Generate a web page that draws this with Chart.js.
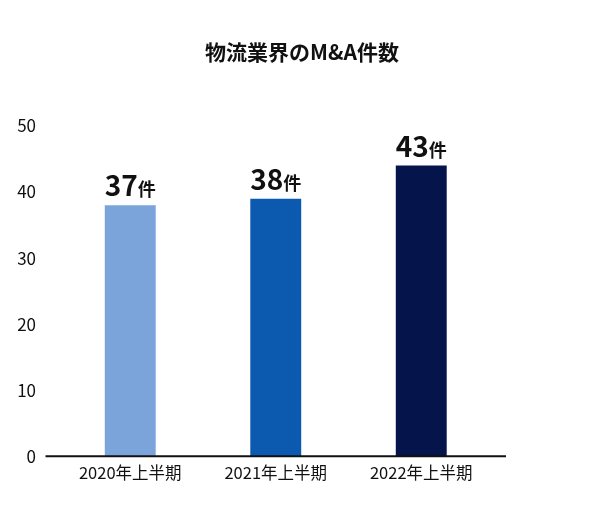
<!DOCTYPE html>
<html lang="ja">
<head>
  <meta charset="UTF-8">
  <title>物流業界のM&A件数</title>
  <script src="https://cdn.jsdelivr.net/npm/chart.js"></script>
  <style>
    html, body { margin: 0; padding: 0; background: #fff; }
    #wrap { width: 600px; height: 528px; }
  </style>
</head>
<body>
  <div id="wrap"><canvas id="maChart" width="600" height="528"></canvas></div>
  <script>
    // データ
    const titleText = '物流業界のM&A件数';
    const periods = ['2020年上半期', '2021年上半期', '2022年上半期'];
    const barValues = [38, 39, 44];          // 棒の高さ
    const labelNumbers = ['37', '38', '43'];  // 棒の上の表示
    const labelUnit = '件';
    const barColors = ['#7ba4db', '#0c5ab0', '#05154b'];

    const FONT = '"Noto Sans CJK JP", "Noto Sans", sans-serif';

    // タイトルを中央に描く
    const titlePlugin = {
      id: 'centerTitle',
      afterDraw(chart) {
        const c = chart.ctx;
        c.save();
        c.font = 'bold 21px ' + FONT;
        c.fillStyle = '#111';
        c.textAlign = 'center';
        c.textBaseline = 'middle';
        c.fillText(titleText, 302, 52);
        c.restore();
      }
    };

    // 0の基準線（左右に少しはみ出す）
    const baselinePlugin = {
      id: 'baseline',
      afterDatasetsDraw(chart) {
        const c = chart.ctx;
        const area = chart.chartArea;
        const y0 = chart.scales.y.getPixelForValue(0);
        c.save();
        c.strokeStyle = '#111';
        c.lineWidth = 2;
        c.beginPath();
        c.moveTo(area.left - 12, y0);
        c.lineTo(area.right + 12, y0);
        c.stroke();
        c.restore();
      }
    };

    // 棒の上のラベル「37件」など
    const valueLabelPlugin = {
      id: 'valueLabels',
      afterDatasetsDraw(chart) {
        const c = chart.ctx;
        const meta = chart.getDatasetMeta(0);
        c.save();
        c.fillStyle = '#111';
        c.textBaseline = 'alphabetic';
        c.textAlign = 'left';
        meta.data.forEach((bar, i) => {
          const numFont = 'bold 28px ' + FONT;
          const unitFont = 'bold 18px ' + FONT;
          c.font = numFont;
          const w1 = c.measureText(labelNumbers[i]).width;
          c.font = unitFont;
          const w2 = c.measureText(labelUnit).width;
          const x = bar.x - (w1 + w2) / 2;
          const y = bar.y - 9;
          c.font = numFont;
          c.fillText(labelNumbers[i], x, y);
          c.font = unitFont;
          c.fillText(labelUnit, x + w1, y);
        });
        c.restore();
      }
    };

    new Chart(document.getElementById('maChart'), {
      type: 'bar',
      data: {
        labels: periods,
        datasets: [{
          data: barValues,
          backgroundColor: barColors,
          barPercentage: 0.35,
          categoryPercentage: 1.0
        }]
      },
      options: {
        responsive: false,
        animation: false,
        layout: {
          padding: { top: 126, left: 17, right: 106, bottom: 46 }
        },
        plugins: {
          legend: { display: false },
          title: { display: false },
          tooltip: { enabled: false }
        },
        scales: {
          x: {
            grid: { display: false },
            border: { display: false },
            ticks: {
              color: '#111',
              font: { family: FONT, size: 16.5 },
              padding: -1
            }
          },
          y: {
            min: 0,
            max: 50,
            grid: { display: false, drawTicks: false },
            border: { display: false },
            ticks: {
              stepSize: 10,
              color: '#111',
              font: { family: FONT, size: 17 },
              padding: 21.5
            },
            afterFit(scale) {
              // 目盛りラベルの右端と棒の領域の間隔を固定
              scale.width = 40.5;
            }
          }
        }
      },
      plugins: [titlePlugin, baselinePlugin, valueLabelPlugin]
    });
  </script>
</body>
</html>
